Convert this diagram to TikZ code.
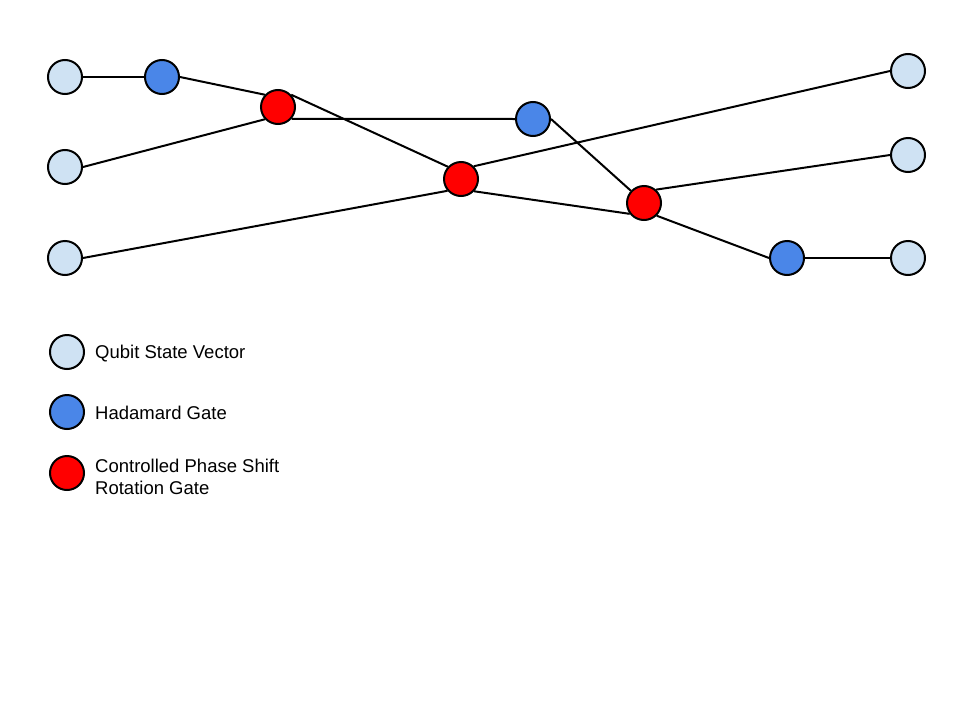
\documentclass[tikz,border=0pt]{standalone}
\usepackage{fontspec}
\setmainfont{Liberation Sans}
\definecolor{qlight}{HTML}{CFE2F3}
\definecolor{qblue}{HTML}{4A86E8}
\definecolor{qred}{HTML}{FF0000}
\begin{document}
\begin{tikzpicture}[x=1pt,y=-1pt,
  gate/.style={circle,draw=black,line width=2pt,minimum size=34pt,inner sep=0pt},
  qstate/.style={gate,fill=qlight},
  hgate/.style={gate,fill=qblue},
  cgate/.style={gate,fill=qred},
  wire/.style={draw=black,line width=2pt},
  legtext/.style={anchor=base west,inner sep=0pt,font=\fontsize{18.5}{21.5}\selectfont,align=left}]
\useasboundingbox[fill=white] (0,0) rectangle (960,720);
% nodes
\node[qstate] (L1) at (65,77) {};
\node[qstate] (L2) at (65,167) {};
\node[qstate] (L3) at (65,258) {};
\node[qstate] (R1) at (908,71) {};
\node[qstate] (R2) at (908,155) {};
\node[qstate] (R3) at (908,258) {};
\node[hgate] (H1) at (162,77) {};
\node[hgate] (H2) at (533,119) {};
\node[hgate] (H3) at (787,258) {};
\node[cgate] (C1) at (278,107) {};
\node[cgate] (C2) at (461,179) {};
\node[cgate] (C3) at (644,203) {};
% wires
\path[wire] (L1.east) -- (H1.west);
\path[wire] (H1.east) -- (C1.137);
\path[wire] (L2.east) -- (C1.223);
\path[wire] (C1.-41) -- (H2.west);
\path[wire] (C1.43) -- (C2.137);
\path[wire] (L3.east) -- (C2.221);
\path[wire] (C2.45) -- (R1.west);
\path[wire] (C2.-43) -- (C3.217);
\path[wire] (H2.east) -- (C3.137);
\path[wire] (C3.48) -- (R2.west);
\path[wire] (C3.-45) -- (H3.west);
\path[wire] (H3.east) -- (R3.west);
% legend
\node[qstate] (K1) at (67,352) {};
\node[hgate] (K2) at (67,412) {};
\node[cgate] (K3) at (67,473) {};
\node[legtext] (T1) at (95,358) {Qubit State Vector};
\node[legtext] (T2) at (95,419) {Hadamard Gate};
\node[legtext] (T3) at (95,494) {Controlled Phase Shift\\Rotation Gate};
\end{tikzpicture}
\end{document}
